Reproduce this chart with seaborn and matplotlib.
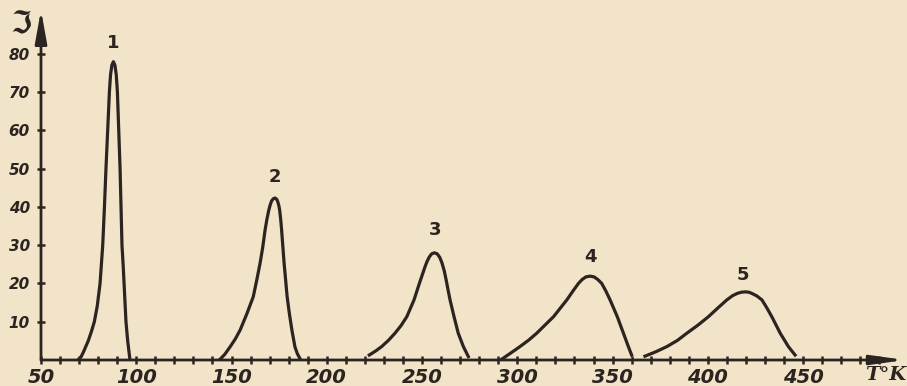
import numpy as np
import pandas as pd
import matplotlib
matplotlib.use("Agg")
import matplotlib.pyplot as plt
import seaborn as sns

# ---- data ----
curve_ids = ["1", "2", "3", "4", "5"]

t1 = [69.4, 71.0, 72.2, 73.5, 74.8, 76.5, 78.0, 79.5, 81.0, 82.4, 83.3, 84.1, 85.0, 85.9, 86.5, 87.2, 88.0,
      88.8, 89.5, 90.1, 90.8, 91.5, 92.0, 92.5, 93.1, 93.6, 94.6, 95.5, 96.7]
i1 = [0.0, 0.8, 2.0, 3.5, 5.0, 7.5, 10.0, 14.0, 20.0, 30.0, 40.0, 50.0, 60.0, 70.0, 74.5, 77.0, 77.9,
      77.0, 74.5, 70.0, 60.0, 50.0, 40.0, 30.0, 25.0, 20.0, 10.0, 5.0, 0.0]

t2 = [144.2, 146.5, 149.2, 152.0, 154.5, 158.0, 161.4, 163.3, 165.0, 166.4, 167.6, 168.6, 169.5, 170.3, 171.0,
      171.9, 172.8, 173.7, 174.3, 174.9, 175.3, 175.8, 176.3, 177.6, 179.2, 180.4, 181.7, 183.3, 184.6, 186.0]
i2 = [0.3, 1.5, 3.4, 5.5, 7.8, 12.0, 16.5, 21.0, 25.3, 29.5, 33.9, 36.8, 39.0, 40.5, 41.5,
      42.1, 42.3, 42.0, 41.3, 40.2, 39.0, 36.8, 33.9, 25.3, 16.5, 12.0, 7.8, 3.4, 1.6, 0.3]

t3 = [222.3, 225.5, 228.8, 232.3, 235.8, 239.0, 242.0, 245.8, 248.6, 251.6, 252.7, 253.8, 255.0, 256.5,
      258.0, 259.3, 260.5, 261.7, 262.7, 263.7, 264.7, 266.8, 269.0, 271.7, 274.3]
i3 = [1.3, 2.3, 3.5, 5.1, 7.0, 9.0, 11.3, 15.7, 20.0, 24.4, 25.8, 26.9, 27.7, 28.0,
      27.7, 26.8, 25.3, 23.2, 20.8, 18.2, 15.7, 11.3, 7.0, 3.5, 0.9]

t4 = [291.8, 296.5, 301.4, 306.0, 310.2, 314.5, 319.0, 322.5, 326.0, 329.2, 332.1, 334.0, 336.0, 338.2,
      340.3, 342.3, 344.3, 346.5, 348.7, 352.5, 355.7, 358.3, 360.0]
i4 = [0.2, 1.8, 3.5, 5.2, 7.0, 9.1, 11.3, 13.5, 15.7, 18.0, 20.0, 21.0, 21.7, 21.9,
      21.7, 21.0, 20.0, 18.0, 15.7, 11.3, 7.0, 3.5, 1.3]

t5 = [367.0, 372.5, 378.5, 384.0, 389.0, 394.8, 400.3, 405.3, 410.0, 413.0, 415.5, 417.6, 419.6, 421.6,
      423.5, 425.8, 428.4, 431.0, 433.6, 438.0, 442.3, 445.8]
i5 = [1.0, 2.1, 3.5, 5.1, 7.0, 9.1, 11.3, 13.6, 15.7, 16.8, 17.4, 17.7, 17.8, 17.7,
      17.3, 16.7, 15.7, 13.6, 11.3, 7.0, 3.5, 1.3]

label_T = [88.0, 172.8, 256.8, 338.2, 418.5]
label_I = [82.8, 47.8, 33.9, 26.9, 22.2]

x_ticklabels = [50, 100, 150, 200, 250, 300, 350, 400, 450]
y_ticklabels = [10, 20, 30, 40, 50, 60, 70, 80]

# ---- build table ----
frames = []
for cid, t, v in zip(curve_ids, [t1, t2, t3, t4, t5], [i1, i2, i3, i4, i5]):
    frames.append(pd.DataFrame({"T": t, "I": v, "curve": cid}))
df = pd.concat(frames, ignore_index=True)

# ---- style ----
BG = "#f2e4c8"
INK = "#2b2420"
W, H = 907, 386
fig = plt.figure(figsize=(W / 100, H / 100), dpi=100, facecolor=BG)
x0, y0, x1, y1 = 41, 360, 905, 10  # pixel frame (left, axis-y, right, top)
ax = fig.add_axes([x0 / W, (H - y0) / H, (x1 - x0) / W, (y0 - y1) / H])
ax.set_facecolor(BG)

sns.lineplot(data=df, x="T", y="I", units="curve", estimator=None,
             color=INK, linewidth=2.3, ax=ax, legend=False)

ax.set_xlim(50, 503.5)
ax.set_ylim(0, 91.4)

for s in ax.spines.values():
    s.set_visible(False)

# axis lines with arrows
ax.annotate("", xy=(503.5, 0), xytext=(50, 0), xycoords="data",
            arrowprops=dict(arrowstyle="-|>,head_length=1.0,head_width=0.14",
                            color=INK, lw=2.0, mutation_scale=20,
                            shrinkA=0, shrinkB=0), annotation_clip=False)
ax.annotate("", xy=(50, 91.4), xytext=(50, 0), xycoords="data",
            arrowprops=dict(arrowstyle="-|>,head_length=1.0,head_width=0.18",
                            color=INK, lw=2.0, mutation_scale=20,
                            shrinkA=0, shrinkB=0), annotation_clip=False)

tick_font = dict(family="DejaVu Sans", weight="bold", style="italic")

ax.set_xticks(x_ticklabels)
ax.set_xticklabels([str(v) for v in x_ticklabels], fontsize=14, color=INK, **tick_font)
ax.set_xticks(np.arange(60, 500, 10), minor=True)
ax.set_yticks(y_ticklabels)
ax.set_yticklabels([str(v) for v in y_ticklabels], fontsize=11, color=INK, **tick_font)

ax.tick_params(axis="both", which="both", direction="inout", length=6, width=1.8, color=INK)
ax.tick_params(axis="x", which="major", pad=3)
ax.tick_params(axis="y", which="major", pad=5)

ax.set_xlabel("")
ax.set_ylabel("")
ax.grid(False)

for cid, tx, ty in zip(curve_ids, label_T, label_I):
    ax.text(tx, ty, cid, ha="center", va="center", fontsize=13, color=INK,
            family="DejaVu Sans", weight="bold")

fig.text(886 / W, 1 - 375 / H, "T°K", ha="center", va="center", fontsize=14,
         color=INK, family="DejaVu Serif", style="italic", weight="bold")
fig.text(21 / W, 1 - 25 / H, "ℑ", ha="center", va="center", fontsize=22, weight="bold",
         color=INK, family=["DejaVu Sans", "Noto Sans", "Noto Sans CJK SC", "Liberation Serif",
                            "Liberation Sans", "Roboto", "Open Sans", "Lato", "Inter"])

fig.savefig("out.png", dpi=100, facecolor=BG)
